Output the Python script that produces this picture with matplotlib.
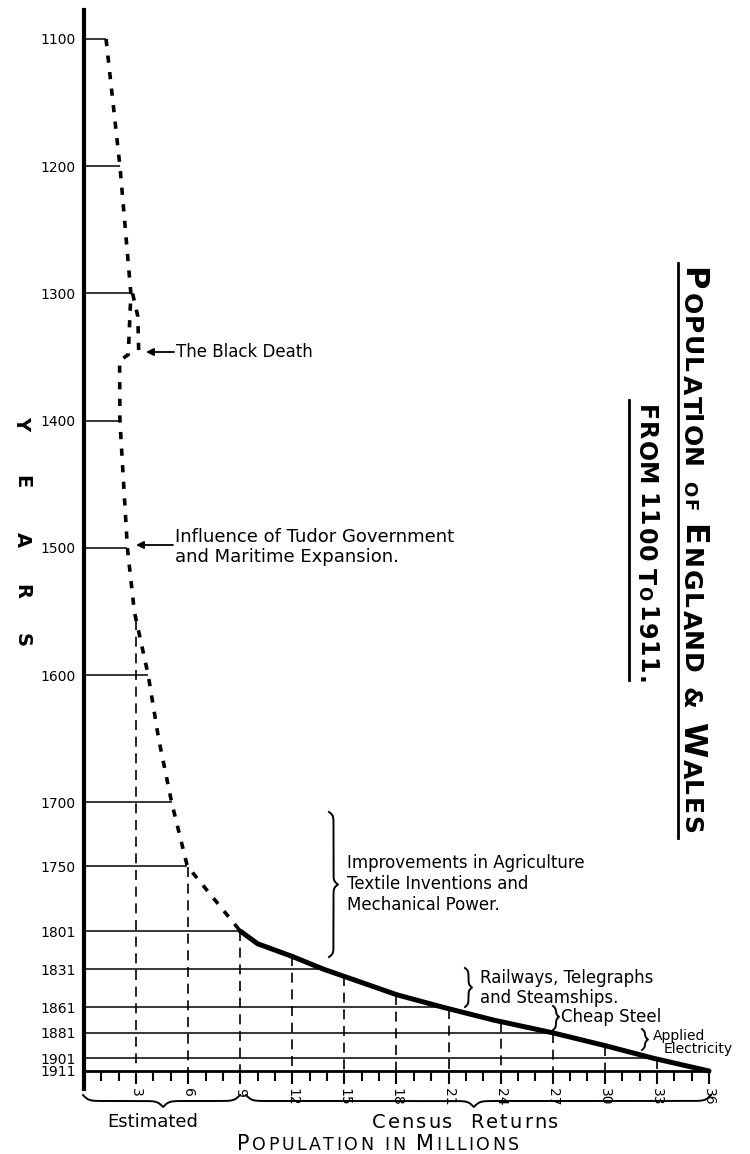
import numpy as np
import matplotlib.pyplot as plt

# vertical scale (years) and horizontal scale (millions)
year_ticks = [1100, 1200, 1300, 1400, 1500, 1600, 1700, 1750, 1801, 1831, 1861, 1881, 1901, 1911]
pop_ticks = [3, 6, 9, 12, 15, 18, 21, 24, 27, 30, 33, 36]

# estimated population in millions (dotted part)
est_years = [1100, 1200, 1300, 1348, 1353, 1400, 1500, 1550, 1600, 1650, 1700, 1750, 1801]
est_pop = [1.27, 2.07, 2.7, 2.55, 2.05, 2.07, 2.5, 2.9, 3.7, 4.3, 5.05, 5.95, 9.0]

# the rise just before the Black Death
plague_years = [1300, 1318, 1345]
plague_pop = [2.8, 3.1, 3.15]

# census returns in millions (solid part)
census_years = [1801, 1811, 1821, 1831, 1841, 1851, 1861, 1871, 1881, 1891, 1901, 1911]
census_pop = [9.0, 10.0, 12.0, 13.8, 15.9, 18.0, 20.7, 23.6, 27.0, 30.0, 32.8, 36.0]

W, H = 750, 1154
fig = plt.figure(figsize=(W / 100, H / 100), dpi=100)
ax = fig.add_axes([0, 0, 1, 1])
# 0 million sits at x=84px (17.36 px per million), 1100 at y=39px (1.2725 px per year)
xlim = (-84 / 17.36, (W - 84) / 17.36)
ylim = (1100 + (H - 39) / 1.2725, 1100 - 39 / 1.2725)


def px(x, y):
    # reference pixel -> figure fraction
    return x / W, 1 - y / H


# axes
for s in ['top', 'right']:
    ax.spines[s].set_visible(False)
ax.spines['left'].set_position(('data', 0))
ax.spines['left'].set_bounds(1077, 1925)
ax.spines['left'].set_linewidth(3)
ax.spines['bottom'].set_position(('data', 1911))
ax.spines['bottom'].set_bounds(0, 36)
ax.spines['bottom'].set_linewidth(2)

ax.set_yticks(year_ticks)
ax.set_yticklabels([str(y) for y in year_ticks])
ax.tick_params(axis='y', length=0, pad=6, labelsize=10)
ax.set_xticks(pop_ticks)
ax.set_xticklabels([str(p) for p in pop_ticks])
ax.set_xticks(range(1, 36), minor=True)
ax.tick_params(axis='x', which='major', direction='out', length=9, width=1.5, pad=3,
               labelrotation=-90, labelsize=10)
ax.tick_params(axis='x', which='minor', direction='out', length=7, width=1.5)

# horizontal lines from the axis to the curve
all_years = est_years + census_years[1:]
all_pop = est_pop + census_pop[1:]
ends = np.interp(year_ticks[:-1], all_years, all_pop)
ax.hlines(year_ticks[:-1], 0, ends, color='k', lw=1.1, zorder=2)

# dashed verticals from the base up to the curve (population rises from 1400 on)
k = est_years.index(1400)
rise_pop = est_pop[k:] + census_pop[1:]
rise_years = est_years[k:] + census_years[1:]
tops = np.interp(pop_ticks[:-1], rise_pop, rise_years)
ax.vlines(pop_ticks[:-1], tops, 1911, color='k', lw=1.2, linestyles=(0, (6, 4)), zorder=2)

# curves
ax.plot(est_pop, est_years, color='k', lw=2.6, ls=(0, (2, 2.6)), zorder=3)
ax.plot(plague_pop, plague_years, color='k', lw=2.6, ls=(0, (2, 2.6)), zorder=3)
ax.plot(census_pop, census_years, color='k', lw=3.6, solid_capstyle='round', zorder=3)

ax.set_xlim(*xlim)
ax.set_ylim(*ylim)


def brace(p0, p1, depth, tip=0.5, beta=0.5, lw=1.4):
    (x0, y0), (x1, y1) = p0, p1
    L = np.hypot(x1 - x0, y1 - y0)
    tx, ty = (x1 - x0) / L, (y1 - y0) / L
    nx, ny = ty, tx

    def half(n):
        u = np.linspace(0, n, 120)
        v = 1 / (1 + np.exp(-beta * u)) + 1 / (1 + np.exp(-beta * (u - n))) - 0.5
        return u, v

    ua, va = half(tip * L)
    ub, vb = half((1 - tip) * L)
    u = np.concatenate([ua, L - ub[::-1]])
    v = np.concatenate([va, vb[::-1]])
    xs = x0 + u * tx + depth * v * nx
    ys = y0 + u * ty + depth * v * ny
    ax.plot(xs / W, 1 - ys / H, transform=fig.transFigure, color='k', lw=lw, clip_on=False)


renderer = fig.canvas.get_renderer()


def spaced(x, y, parts, rotation=0, weight='normal'):
    # letters drawn one by one: (text, size, letter gap, gap after)
    for s, size, ls, gap in parts:
        for i, ch in enumerate(s):
            t = fig.text(*px(x, y), ch, fontsize=size, rotation=rotation, fontweight=weight,
                         rotation_mode='anchor', ha='left', va='baseline')
            bb = t.get_window_extent(renderer)
            step = (bb.width if rotation == 0 else bb.height) + (ls if i < len(s) - 1 else gap)
            if rotation == 0:
                x += step
            else:
                y += step


def arrow(x0, y0, x1, y1):
    ax.annotate('', xy=px(x1, y1), xytext=px(x0, y0), xycoords='figure fraction',
                arrowprops=dict(arrowstyle='-|>', lw=1.3, color='k', mutation_scale=11,
                                shrinkA=0, shrinkB=0))


# YEARS down the left side
for ch, yy in zip('YEARS', [423, 482, 540, 592, 640]):
    fig.text(*px(22, yy), ch, fontsize=14, fontweight='bold', rotation=-90,
             ha='center', va='center')

# title
spaced(683, 267, [('P', 23, 0, 2.5), ('OPULATION', 18, 1.5, 13), ('OF', 13, 2, 13),
                  ('E', 23, 0, 2.5), ('NGLAND', 18, 1.5, 13), ('&', 18, 0, 13),
                  ('W', 23, 0, 2.5), ('ALES', 18, 1.5, 0)], rotation=-90, weight='bold')
fig.add_artist(plt.Line2D([678 / W] * 2, [1 - 263 / H, 1 - 838 / H], color='k', lw=2))
spaced(638, 405, [('FROM', 17, 1, 7), ('1100', 17, 1, 7), ('T', 17, 0, 1),
                  ('O', 12, 0, 6), ('1911.', 17, 1, 0)], rotation=-90, weight='bold')
fig.add_artist(plt.Line2D([629 / W] * 2, [1 - 400 / H, 1 - 680 / H], color='k', lw=2))

# notes
arrow(174, 352, 146, 352)
fig.text(*px(176, 352), 'The Black Death', fontsize=12, va='center')
arrow(173, 545, 136, 545)
fig.text(*px(175, 547), 'Influence of Tudor Government\nand Maritime Expansion.',
         fontsize=13, va='center', linespacing=1.1)
brace((329, 812), (329, 957), 9, tip=0.5, beta=0.6)
fig.text(*px(347, 884), 'Improvements in Agriculture\nTextile Inventions and\nMechanical Power.',
         fontsize=12, va='center', linespacing=1.2)
brace((465, 968), (465, 1007), 7, beta=0.7)
fig.text(*px(480, 988), 'Railways, Telegraphs\nand Steamships.', fontsize=12, va='center',
         linespacing=1.15)
brace((553, 1006), (553, 1030), 6, tip=0.45, beta=0.8)
fig.text(*px(561, 1017), 'Cheap Steel', fontsize=12, va='center')
brace((642, 1029), (642, 1050), 6, beta=0.8)
fig.text(*px(653, 1036), 'Applied', fontsize=10, va='center')
fig.text(*px(664, 1049), 'Electricity', fontsize=10, va='center')

# bottom brackets and axis title
brace((83, 1095), (240, 1095), 12, tip=0.51, beta=0.35)
brace((246, 1095), (711, 1095), 12, tip=0.49, beta=0.35)
fig.text(*px(153, 1122), 'Estimated', fontsize=13, ha='center', va='center')
spaced(372, 1128, [('Census', 14, 2, 18), ('Returns', 14, 2, 0)])
spaced(237, 1150, [('P', 15, 0, 2.5), ('OPULATION', 12.5, 2.5, 11), ('IN', 12.5, 2.5, 11),
                   ('M', 15, 0, 2.5), ('ILLIONS', 12.5, 2.5, 0)])

fig.savefig('out.png', dpi=100, facecolor='white')
